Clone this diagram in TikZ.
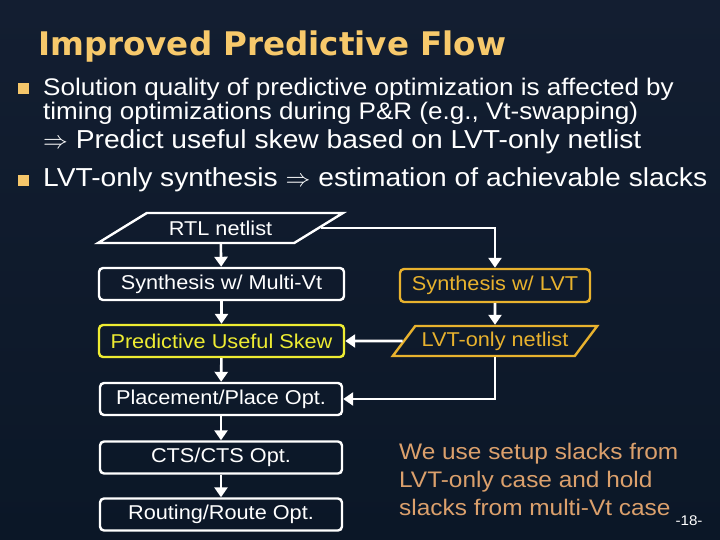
\documentclass[tikz,border=0pt]{standalone}
\usepackage{fontspec}
\setmainfont{Liberation Sans}[FakeStretch=1.085]
\newfontfamily\titlefont{DejaVu Sans}
\usetikzlibrary{shapes.geometric, arrows.meta, positioning}
\definecolor{SlideTop}{HTML}{131E31}
\definecolor{SlideMid}{HTML}{1C355A}
\definecolor{SlideBot}{HTML}{0B1727}
\definecolor{TitleGold}{HTML}{F7C96B}
\definecolor{BulletGold}{HTML}{F5C66A}
\definecolor{LvtOrange}{HTML}{E8B22E}
\definecolor{SkewYellow}{HTML}{EEEC32}
\definecolor{NoteTan}{HTML}{DBA06C}
\tikzset{
    % flow boxes
    process/.style={
        rectangle,
        rounded corners=4bp,
        draw=white,
        line width=2.4bp,
        text=white,
        minimum width=245bp,
        minimum height=32bp,
        align=center,
        font=\fontsize{20bp}{24bp}\selectfont
    },
    process lvt/.style={
        process,
        draw=LvtOrange,
        text=LvtOrange
    },
    process skew/.style={
        process,
        draw=SkewYellow,
        text=SkewYellow
    },
    netlist/.style={
        trapezium,
        trapezium stretches=true,
        trapezium left angle=31,
        trapezium right angle=149,
        draw=white,
        line width=2.4bp,
        text=white,
        minimum width=245bp,
        minimum height=30bp,
        inner xsep=2bp,
        font=\fontsize{20bp}{24bp}\selectfont
    },
    netlist lvt/.style={
        netlist,
        draw=LvtOrange,
        text=LvtOrange,
        trapezium left angle=50,
        trapezium right angle=130,
        minimum width=205bp
    },
    flow arrow/.style={
        -{Triangle[width=13bp,length=10bp]},
        draw=white,
        line width=2.6bp
    },
    bullet text/.style={
        anchor=base west,
        text=white,
        inner sep=0pt,
        font=\fontsize{24bp}{28bp}\selectfont
    },
    bullet mark/.style={
        rectangle,
        fill=BulletGold,
        minimum size=11bp,
        inner sep=0pt
    }
}

\begin{document}
\begin{tikzpicture}[x=1bp, y=-1bp]
        % Slide background
        \shade[top color=SlideTop, middle color=SlideMid, bottom color=SlideBot] (0,0) rectangle (720,540);
        \useasboundingbox (0,0) rectangle (720,540);

        % Title and bullets
        \node[anchor=base west, inner sep=0pt, text=TitleGold, font=\titlefont\bfseries\fontsize{32.5bp}{36bp}\selectfont] (title) at (38,56) {Improved Predictive Flow};

        \node[bullet mark] (m1) at (23,89) {};
        \node[bullet text] (l1) at (43,96) {Solution quality of predictive optimization is affected by};
        \node[bullet text] (l2) at (43,120) {timing optimizations during P\&R (e.g., Vt-swapping)};
        \node[bullet text, font=\fontsize{26bp}{30bp}\selectfont] (l3) at (43,149) {$\Rightarrow$ Predict useful skew based on LVT-only netlist};
        \node[bullet mark] (m2) at (23,181) {};
        \node[bullet text, font=\fontsize{26bp}{30bp}\selectfont] (l4) at (43,187) {LVT-only synthesis $\Rightarrow$ estimation of achievable slacks};

        % Multi-Vt flow
        \node[netlist] (rtl) at (220.5,228) {RTL netlist};
        \node[process] (synmvt) at (221.5,284) {Synthesis w/ Multi-Vt};
        \node[process skew] (skew) at (221.5,341) {Predictive Useful Skew};
        \node[process, minimum width=242bp] (place) at (221,399) {Placement/Place Opt.};
        \node[process, minimum width=242bp] (cts) at (221,457.5) {CTS/CTS Opt.};
        \node[process, minimum width=242bp] (route) at (221,514.5) {Routing/Route Opt.};

        % LVT-only flow
        \node[process lvt, minimum width=190bp, minimum height=33bp] (synlvt) at (495,285.5) {Synthesis w/ LVT};
        \node[netlist lvt] (lvtnet) at (495,341) {LVT-only netlist};

        % Arrows
        \draw[flow arrow] (rtl) -- (synmvt);
        \draw[flow arrow] (synmvt) -- (skew);
        \draw[flow arrow] (skew) -- (place);
        \draw[flow arrow] (place) -- (cts);
        \draw[flow arrow] (cts) -- (route);
        \draw[flow arrow] (rtl.east) -| (synlvt.north);
        \draw[flow arrow] (synlvt) -- (lvtnet);
        \draw[flow arrow] (lvtnet) -- (skew);
        \draw[flow arrow] (lvtnet.south) |- (place.east);

        % Note and page number
        \node[anchor=west, align=left, text=NoteTan, inner sep=0pt, font=\fontsize{22.5bp}{28bp}\selectfont] (note) at (399,479) {We use setup slacks from\\LVT-only case and hold\\slacks from multi-Vt case};
        \node[text=white, inner sep=0pt, font=\fontsize{14bp}{16bp}\selectfont] (page) at (689,521) {-18-};
    \end{tikzpicture}
\end{document}
